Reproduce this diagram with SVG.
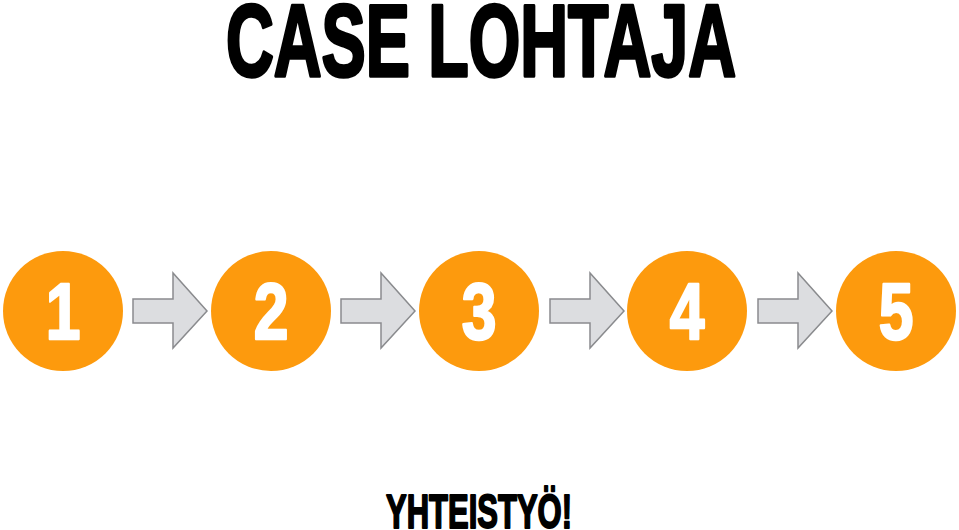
<svg xmlns="http://www.w3.org/2000/svg" width="959" height="530" viewBox="0 0 959 530">
<style>
.title{font-family:"Liberation Sans","Arial",sans-serif;font-weight:bold;fill:#000;stroke:#000;stroke-linejoin:round}
.circ{fill:#FD9A0D}
.num{font-family:"Liberation Sans","Arial",sans-serif;font-weight:bold;font-size:80px;fill:#fff;stroke:#fff;stroke-width:2.5;stroke-linejoin:round;text-anchor:middle}
.arrow{fill:#DCDDE0;stroke:#8A8B8E;stroke-width:1.5;stroke-linejoin:miter}
</style>
<defs>
<path id="arr" d="M0,299 L40,299 L40,273 L74,311 L40,348 L40,323 L0,323 Z"/>
</defs>
<rect width="959" height="530" fill="#fff"/>
<text class="title" x="226" y="76" font-size="102" stroke-width="3.5" textLength="510" lengthAdjust="spacingAndGlyphs">CASE LOHTAJA</text>
<g id="connectors">
<use href="#arr" class="arrow" transform="translate(133,0)"/>
<use href="#arr" class="arrow" transform="translate(341,0)"/>
<use href="#arr" class="arrow" transform="translate(550,0)"/>
<use href="#arr" class="arrow" transform="translate(758,0)"/>
</g>
<g id="node1"><circle class="circ" cx="63" cy="311" r="60"/><text class="num" transform="translate(63,339) scale(0.78,1)">1</text></g>
<g id="node2"><circle class="circ" cx="271" cy="311" r="60"/><text class="num" transform="translate(271,339) scale(0.78,1)">2</text></g>
<g id="node3"><circle class="circ" cx="479" cy="311" r="60"/><text class="num" transform="translate(479,339) scale(0.78,1)">3</text></g>
<g id="node4"><circle class="circ" cx="687" cy="311" r="60"/><text class="num" transform="translate(687,339) scale(0.78,1)">4</text></g>
<g id="node5"><circle class="circ" cx="896" cy="311" r="60"/><text class="num" transform="translate(896,339) scale(0.78,1)">5</text></g>
<text class="title" x="386" y="528" font-size="48" stroke-width="2" textLength="186" lengthAdjust="spacingAndGlyphs">YHTEISTYÖ!</text>
</svg>
